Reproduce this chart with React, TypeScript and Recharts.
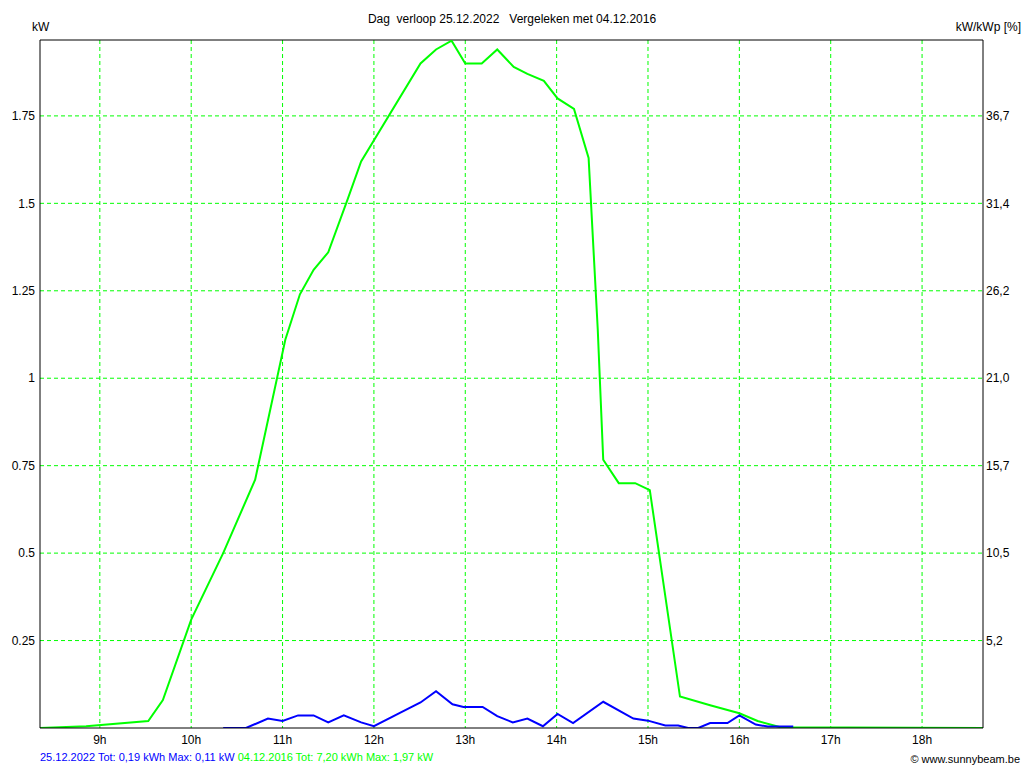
import React from 'react';
import { LineChart, Line, XAxis, YAxis, CartesianGrid, ReferenceLine } from 'recharts';

// ---------------- DATA ----------------
// hours of the day (decimal) and power in kW
const greenTimes = [
  8.333, 8.85, 9.53, 9.69, 10.0, 10.35, 10.7, 11.03, 11.19, 11.34, 11.5, 11.71, 11.86, 12.51, 12.68,
  12.85, 13.0, 13.18, 13.35, 13.53, 13.68, 13.86, 14.01, 14.19, 14.35, 14.45, 14.51, 14.68, 14.86, 15.02,
  15.35, 15.68, 16.0, 16.2, 16.45, 18.667,
];
const greenValues = [
  0, 0.005, 0.02, 0.08, 0.31, 0.5, 0.71, 1.11, 1.24, 1.31, 1.36, 1.51, 1.62, 1.9, 1.94,
  1.965, 1.9, 1.9, 1.94, 1.89, 1.87, 1.85, 1.8, 1.77, 1.63, 1.14, 0.767, 0.7, 0.7, 0.68,
  0.09, 0.065, 0.042, 0.02, 0.002, 0,
];

const blueTimes = [
  10.35, 10.6, 10.84, 11.0, 11.17, 11.34, 11.5, 11.67, 11.86, 12.0, 12.29, 12.51, 12.68, 12.86, 12.98,
  13.19, 13.35, 13.52, 13.68, 13.85, 14.01, 14.18, 14.51, 14.84, 15.0, 15.19, 15.33, 15.44, 15.55, 15.68,
  15.87, 16.0, 16.18, 16.31, 16.59,
];
const blueValues = [
  0, 0, 0.027, 0.02, 0.036, 0.036, 0.016, 0.036, 0.016, 0.005, 0.044, 0.073, 0.105, 0.068, 0.06,
  0.06, 0.034, 0.016, 0.027, 0.005, 0.04, 0.014, 0.075, 0.027, 0.021, 0.007, 0.007, 0, 0, 0.014,
  0.014, 0.036, 0.01, 0.004, 0.004,
];

const hourTicks = [9, 10, 11, 12, 13, 14, 15, 16, 17, 18];
const kwTicks = [0.25, 0.5, 0.75, 1, 1.25, 1.5, 1.75];
const kwTickLabels = ['0.25', '0.5', '0.75', '1', '1.25', '1.5', '1.75'];
const pctTickLabels = ['5,2', '10,5', '15,7', '21,0', '26,2', '31,4', '36,7'];

const greenData = greenTimes.map((t, i) => ({ t, kw: greenValues[i] }));
const blueData = blueTimes.map((t, i) => ({ t, kw: blueValues[i] }));

const X_MIN = 8.345;
const X_MAX = 18.667;
const Y_MAX = 1.967;

const GREEN = '#00FF00';
const BLUE = '#0000FF';
const FONT = '"Liberation Sans", Arial, sans-serif';

const tickStyle = { fill: '#000000', fontSize: 12, fontFamily: FONT };

const label = (x: number, y: number, extra: React.CSSProperties = {}): React.CSSProperties => ({
  position: 'absolute',
  left: x,
  top: y,
  fontSize: 12,
  fontFamily: FONT,
  color: '#000',
  whiteSpace: 'pre',
  lineHeight: '14px',
  ...extra,
});

export default function App() {
  return (
    <div style={{ position: 'absolute', left: 0, top: 0, width: 1024, height: 768, background: '#fff' }}>
      <LineChart width={1024} height={768} margin={{ top: 40, right: 0, left: 0, bottom: 10 }}>
        <CartesianGrid
          yAxisId="left"
          stroke={GREEN}
          strokeDasharray="4 3"
          horizontalValues={kwTicks}
          verticalValues={hourTicks}
        />
        <XAxis
          type="number"
          dataKey="t"
          domain={[X_MIN, X_MAX]}
          ticks={hourTicks}
          allowDataOverflow
          tickFormatter={(v: number) => `${v}h`}
          tickLine={false}
          tickSize={0}
          tickMargin={7}
          height={30}
          axisLine={{ stroke: '#000' }}
          tick={tickStyle}
        />
        <YAxis
          yAxisId="left"
          domain={[0, Y_MAX]}
          ticks={kwTicks}
          allowDataOverflow
          tickFormatter={(v: number) => kwTickLabels[kwTicks.indexOf(v)] ?? ''}
          width={40}
          tickLine={false}
          tickSize={0}
          tickMargin={5}
          axisLine={{ stroke: '#000' }}
          tick={tickStyle}
        />
        <YAxis
          yAxisId="right"
          orientation="right"
          domain={[0, Y_MAX]}
          ticks={kwTicks}
          allowDataOverflow
          tickFormatter={(v: number) => pctTickLabels[kwTicks.indexOf(v)] ?? ''}
          width={41}
          tickLine={false}
          tickSize={0}
          tickMargin={3}
          axisLine={{ stroke: '#000' }}
          tick={{ ...tickStyle, textAnchor: 'start' }}
        />
        <ReferenceLine yAxisId="left" y={Y_MAX} stroke="#000" strokeWidth={1} />
        <Line
          yAxisId="left"
          data={greenData}
          dataKey="kw"
          type="linear"
          stroke={GREEN}
          strokeWidth={2}
          dot={false}
          isAnimationActive={false}
        />
        <Line
          yAxisId="left"
          data={blueData}
          dataKey="kw"
          type="linear"
          stroke={BLUE}
          strokeWidth={2}
          dot={false}
          isAnimationActive={false}
        />
      </LineChart>

      {/* TITLES */}
      <div style={label(0, 12, { width: 1024, textAlign: 'center' })}>
        {'Dag  verloop 25.12.2022   Vergeleken met 04.12.2016'}
      </div>
      <div style={label(32, 20)}>kW</div>
      <div style={label(0, 20, { left: 'auto', right: 3 } as React.CSSProperties)}>kW/kWp [%]</div>

      {/* FOOTER */}
      <div style={label(40, 750, { fontSize: 11 })}>
        <span style={{ color: BLUE }}>25.12.2022 Tot: 0,19 kWh Max: 0,11 kW </span>
        <span style={{ color: GREEN }}>04.12.2016 Tot: 7,20 kWh Max: 1,97 kW</span>
      </div>
      <div style={label(0, 752, { left: 'auto', right: 4, fontSize: 11 } as React.CSSProperties)}>
        © www.sunnybeam.be
      </div>
    </div>
  );
}
